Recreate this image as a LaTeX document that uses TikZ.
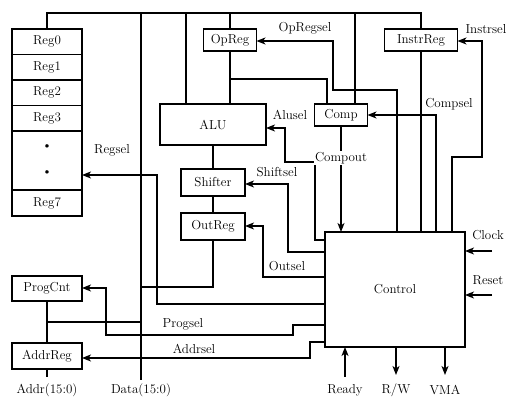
\documentclass[tikz,border=0pt]{standalone}
\usepackage{tikz}
\usetikzlibrary{positioning}
\usetikzlibrary{arrows.meta}
\tikzset{
        unitbox/.style={draw, rectangle, inner sep=0pt, outer sep=0pt, font=\fontsize{13}{15}\selectfont},
        % Register file cells
        reg_cell/.style={unitbox, minimum width=70pt, minimum height=25.5pt},
        % Small data path boxes
        path_box/.style={unitbox, minimum height=22pt},
        % Signal labels
        sig_label/.style={font=\fontsize{13}{15}\selectfont, inner sep=1pt}
}

\begin{document}
\begin{tikzpicture}[
            x=1pt, y=-1pt,
            line width=1.2pt,
            >={Stealth[length=9pt,width=7pt,inset=2.5pt]},
            node distance=0pt
        ]
            \useasboundingbox (0,0) rectangle (512,411);
            % register file
            \node[reg_cell] (reg0) at (47,41.75) {Reg0};
            \node[reg_cell, below=of reg0] (reg1) {Reg1};
            \node[reg_cell, below=of reg1] (reg2) {Reg2};
            \node[reg_cell, below=of reg2] (reg3) {Reg3};
            \node[reg_cell, below=of reg3, minimum height=59pt, align=center] (regdots)
                {\textbullet\\[11pt]\textbullet};
            \node[reg_cell, below=of regdots, minimum height=26pt] (reg7) {Reg7};
            \node[reg_cell, minimum height=25pt] (progcnt) at (47,288.5) {ProgCnt};
            \node[reg_cell, minimum height=26pt] (addrreg) at (47,356) {AddrReg};

            % data path
            \node[path_box, minimum width=53pt] (opreg) at (230,40) {OpReg};
            \node[path_box, minimum width=73pt] (instrreg) at (421,40) {InstrReg};
            \node[unitbox, minimum width=106pt, minimum height=41pt] (alu) at (213,124.5) {ALU};
            \node[path_box, minimum width=53pt] (comp) at (341,115) {Comp};
            \node[path_box, minimum width=64pt, minimum height=27pt] (shifter) at (213,182.5) {Shifter};
            \node[path_box, minimum width=64pt, minimum height=27pt] (outreg) at (213,226.5) {OutReg};
            \node[unitbox, minimum width=140pt, minimum height=115pt] (ctrl) at (395,289.5) {Control};

            % free ends
            \coordinate (bus_top) at (0,13);
            \coordinate (data_top) at (141,13);
            \coordinate (data_bot) at (141,380);
            \coordinate (addr_bot) at (47,377);
            \coordinate (clock_in) at (492,251);
            \coordinate (reset_in) at (492,295);
            \coordinate (ready_in) at (345,377);
            \coordinate (rw_out) at (396,375);
            \coordinate (vma_out) at (445,375);

            % buses
            \draw (reg0.north) |- (instrreg.north |- bus_top) -- (instrreg.north);
            \draw (data_top) -- (data_bot);
            \draw (186,13) -- (alu.north -| 186,0);
            \draw (opreg.north |- bus_top) -- (opreg.north);
            \draw (355,13) -- (comp.north -| 355,0);
            \draw (opreg.south) -- (alu.north -| opreg.south);
            \draw (opreg.south |- 0,79) -| (comp.north -| 327,0);
            \draw (alu.south) -- (shifter.north);
            \draw (shifter.south) -- (outreg.north);
            \draw (outreg.south) |- (data_top |- 0,287);
            \draw (progcnt.south) -- (addrreg.north);
            \draw (progcnt.south |- 0,322) -- (data_top |- 0,322);
            \draw (addrreg.south) -- (addr_bot);
            \draw (instrreg.south) -- (ctrl.north -| instrreg.south);

            % control signals
            \draw[->] (ctrl.west |- 0,240) -| (315,162) -| (285,128) -- (alu.east |- 0,128);
            \draw[->] (ctrl.west |- 0,252) -| (288,184) -- (shifter.east |- 0,184);
            \draw[->] (ctrl.west |- 0,277) -| (263,226) -- (outreg.east |- 0,226);
            \draw[->] (ctrl.west |- 0,304) -| (157,175) -- (regdots.east |- 0,175);
            \draw[->] (ctrl.west |- 0,325) -| (293,335) -| (106,288) -- (progcnt.east |- 0,288);
            \draw[->] (ctrl.west |- 0,342) -| (310,358) -- (addrreg.east |- 0,358);
            \draw[->] (ctrl.north -| 397,0) |- (333,90) |- (opreg.east |- 0,41);
            \draw[->] (ctrl.north -| 436,0) |- (comp.east);
            \draw[->] (ctrl.north -| 452,0) |- (482,157) |- (instrreg.east |- 0,41);
            \draw[->] (comp.south) -- (ctrl.north -| comp.south);
            \draw[->] (clock_in) -- (ctrl.east |- clock_in);
            \draw[->] (reset_in) -- (ctrl.east |- reset_in);
            \draw[->] (ready_in) -- (ctrl.south -| ready_in);
            \draw[->] (ctrl.south -| rw_out) -- (rw_out);
            \draw[->] (ctrl.south -| vma_out) -- (vma_out);

            % labels
            \node[sig_label] (lbl_regsel) at (112,150) {Regsel};
            \node[sig_label] (lbl_opregsel) at (305,28) {OpRegsel};
            \node[sig_label] (lbl_instrsel) at (486,29) {Instrsel};
            \node[sig_label] (lbl_compsel) at (449,104) {Compsel};
            \node[sig_label] (lbl_alusel) at (290,115) {Alusel};
            \node[sig_label, fill=white] (lbl_compout) at (341,158) {Compout};
            \node[sig_label] (lbl_shiftsel) at (277,172) {Shiftsel};
            \node[sig_label] (lbl_outsel) at (287,266) {Outsel};
            \node[sig_label] (lbl_progsel) at (183,324) {Progsel};
            \node[sig_label] (lbl_addrsel) at (194,349) {Addrsel};
            \node[sig_label] (lbl_clock) at (488,235) {Clock};
            \node[sig_label] (lbl_reset) at (488,280) {Reset};
            \node[sig_label] (lbl_ready) at (345,390) {Ready};
            \node[sig_label] (lbl_rw) at (396,390) {R/W};
            \node[sig_label] (lbl_vma) at (445,390) {VMA};
            \node[sig_label] (lbl_addr) at (47,390) {Addr(15:0)};
            \node[sig_label] (lbl_data) at (141,390) {Data(15:0)};
        \end{tikzpicture}
\end{document}
